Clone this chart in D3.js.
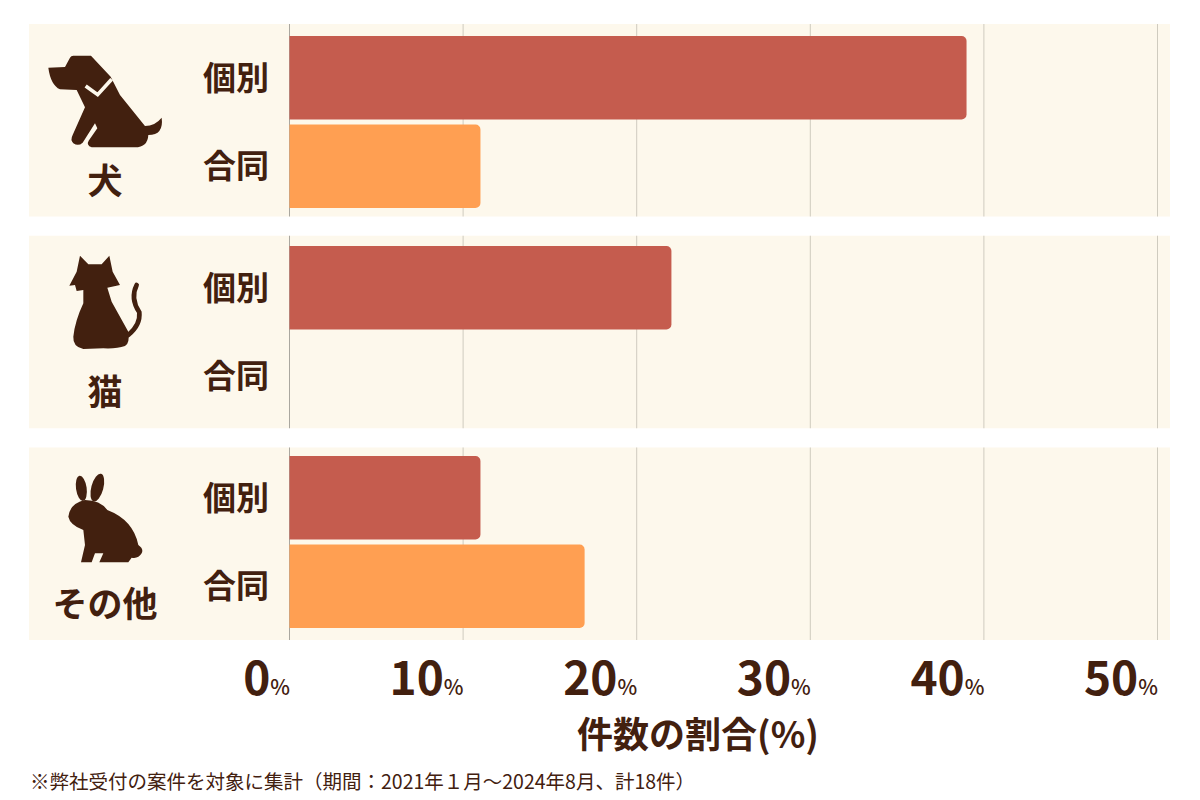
<!DOCTYPE html>
<html lang="ja">
<head>
<meta charset="utf-8">
<script src="https://cdn.jsdelivr.net/npm/d3@7"></script>
<style>
  html, body { margin: 0; padding: 0; background: #fff; }
  svg { display: block; }
  text { font-family: "Noto Sans CJK JP", "Noto Sans", sans-serif; fill: #42200f; }
</style>
</head>
<body>
<div id="chart"></div>
<script>
// Share of handled cases by animal and cremation type
const animals = ["犬", "猫", "その他"];
const kinds = ["個別", "合同"];
const individualShare = [39, 22, 11];
const jointShare = [11, 0, 17];
const tickValues = [0, 10, 20, 30, 40, 50];
const axisTitle = "件数の割合(%)";
const footnote = "※弊社受付の案件を対象に集計（期間：2021年１月～2024年8月、計18件）";

const colors = { "個別": "#c55c4e", "合同": "#ff9f52" };
const ink = "#42200f", panelFill = "#fdf8ec";

const width = 1200, height = 800;
const svg = d3.select("#chart").append("svg").attr("width", width).attr("height", height);

const x = d3.scaleLinear().domain([0, 50]).range([289.5, 1157.5]);
const panelY = d3.scaleBand().domain(animals).range([24, 640]).paddingInner(0.0909);
const groupY = d3.scaleBand().domain(animals).range([36, 628]).paddingInner(0.181);
const barY = d3.scaleBand().domain(kinds).range([0, groupY.bandwidth()]).paddingInner(0.057);

const rows = animals.flatMap((animal, i) => [
  { animal, kind: "個別", value: individualShare[i] },
  { animal, kind: "合同", value: jointShare[i] }
]);

// Background panels and their vertical grid lines
const panels = svg.append("g").selectAll("g").data(animals).join("g")
  .attr("transform", d => `translate(0,${panelY(d)})`);
panels.append("rect")
  .attr("x", 29).attr("width", 1141).attr("height", panelY.bandwidth())
  .attr("fill", panelFill);
panels.selectAll("line").data(tickValues).join("line")
  .attr("x1", d => x(d)).attr("x2", d => x(d))
  .attr("y1", 0).attr("y2", panelY.bandwidth())
  .attr("stroke", d => d === 0 ? "#aaa79f" : "#cfcbbf").attr("stroke-width", 1);

// Bars: square at the baseline, rounded at the value end
const barPath = d => {
  const x0 = x(0), x1 = x(d.value), y0 = groupY(d.animal) + barY(d.kind), h = barY.bandwidth(), r = 5;
  const p = d3.path();
  p.moveTo(x0, y0);
  p.lineTo(x1 - r, y0);
  p.arcTo(x1, y0, x1, y0 + r, r);
  p.lineTo(x1, y0 + h - r);
  p.arcTo(x1, y0 + h, x1 - r, y0 + h, r);
  p.lineTo(x0, y0 + h);
  p.closePath();
  return p.toString();
};
svg.append("g").selectAll("path").data(rows.filter(d => d.value > 0)).join("path")
  .attr("d", barPath).attr("fill", d => colors[d.kind]);

// Row labels
svg.append("g").selectAll("text").data(rows).join("text")
  .attr("x", 269)
  .attr("y", d => groupY(d.animal) + barY(d.kind) + barY.bandwidth() / 2)
  .attr("dy", "0.36em")
  .attr("text-anchor", "end")
  .attr("font-size", 33).attr("font-weight", 700)
  .text(d => d.kind);

// Animal labels
svg.append("g").selectAll("text").data(animals).join("text")
  .attr("x", 105)
  .attr("y", d => panelY(d) + 157)
  .attr("dy", "0.36em")
  .attr("text-anchor", "middle")
  .attr("font-size", 35).attr("font-weight", 700)
  .text(d => d);

// Animal silhouettes, drawn at three times size in their own coordinates
const icons = svg.append("g").attr("fill", ink);

const dog = icons.append("g").attr("transform", "translate(20,20) scale(0.3333)");
dog.append("path").attr("d",
  "M85,143 L135,141 L150,113 Q153,107 160,107 L213,107 L272,170 L300,225 L375,318 Q405,318 425,293 Q432,345 385,345 " +
  "Q383,382 345,382 L215,382 Q198,375 206,362 L232,325 L225,310 L188,368 Q175,380 160,370 Q150,360 158,345 L195,262 " +
  "L170,210 L120,208 Q92,195 85,143 Z");
dog.append("path").attr("d", "M197,198 L233,224 L275,178")
  .attr("fill", "none").attr("stroke", panelFill).attr("stroke-width", 11);

const cat = icons.append("g").attr("transform", "translate(20,235) scale(0.3333)");
cat.append("path").attr("d",
  "M180,62 L205,88 L245,88 L268,62 L278,110 L300,150 L262,158 L275,200 L325,290 Q330,325 315,333 Q290,342 250,340 " +
  "L190,342 Q158,335 160,305 Q165,258 190,205 L190,165 L170,168 L165,150 L148,152 L170,110 Z");
cat.append("path").attr("d", "M325,300 Q362,270 358,232 Q330,190 350,150")
  .attr("fill", "none").attr("stroke", ink).attr("stroke-width", 14).attr("stroke-linecap", "round");

const rabbit = icons.append("g").attr("transform", "translate(20,445) scale(0.3333)");
rabbit.append("ellipse").attr("cx", 184).attr("cy", 130).attr("rx", 16).attr("ry", 38)
  .attr("transform", "rotate(-8 184 130)");
rabbit.append("ellipse").attr("cx", 232).attr("cy", 128).attr("rx", 18).attr("ry", 43)
  .attr("transform", "rotate(15 232 128)");
rabbit.append("path").attr("d",
  "M145,215 Q150,175 195,165 Q240,165 262,195 Q340,225 355,300 Q372,312 365,325 Q355,342 335,338 L325,352 L238,352 " +
  "L250,325 L225,325 L215,352 L183,352 L195,300 L190,255 Q150,240 145,215 Z");

// Value axis labels: large number with a small percent sign, ending on each grid line
const axis = d3.axisBottom(x).tickValues(tickValues).tickSize(0).tickPadding(0).tickFormat(d => d);
const axisG = svg.append("g").attr("transform", "translate(0,640)").call(axis);
axisG.select(".domain").remove();
axisG.selectAll(".tick text").each(function (d) {
  const t = d3.select(this)
    .text(null)
    .attr("x", 0).attr("y", 55).attr("dy", null)
    .attr("text-anchor", "end")
    .attr("font-family", null);
  t.append("tspan").attr("font-size", 46).attr("font-weight", 700).text(d);
  t.append("tspan").attr("font-size", 21).attr("font-weight", 500).text("%");
});

// Axis title and footnote
svg.append("text")
  .attr("x", 698).attr("y", 735).attr("dy", "0.36em")
  .attr("text-anchor", "middle")
  .attr("font-size", 36).attr("font-weight", 700)
  .text(axisTitle);

svg.append("text")
  .attr("x", 30).attr("y", 782).attr("dy", "0.36em")
  .attr("font-size", 19.5).attr("font-weight", 400)
  .text(footnote);
</script>
</body>
</html>
